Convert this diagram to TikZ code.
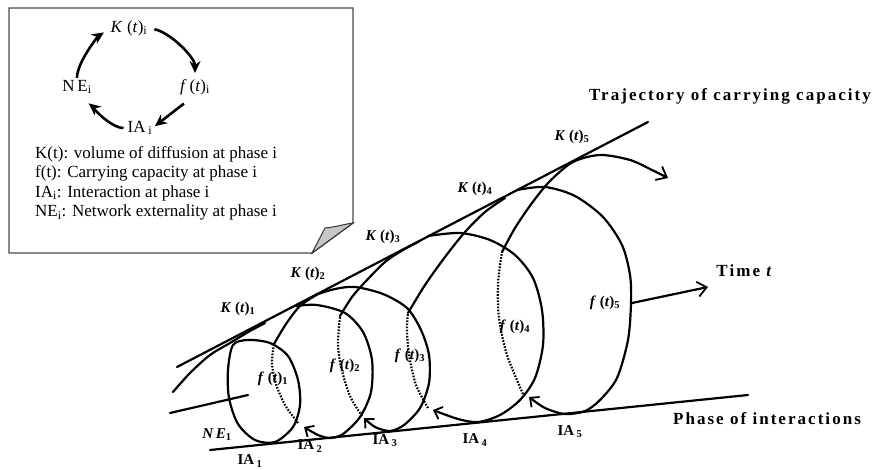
\documentclass[tikz,border=0pt]{standalone}
\usepackage{fontspec}
\setmainfont{Liberation Serif}
\newfontfamily\spacedfont[LetterSpace=12]{Liberation Serif}
\usetikzlibrary{arrows.meta}

% labels of the spiral
\newcommand{\Klab}[1]{\textbf{\textit{K}\ (\textit{t})\textsubscript{#1}}}
\newcommand{\flab}[1]{\textbf{\textit{f}\ (\textit{t})\textsubscript{#1}}}
\newcommand{\IAlab}[1]{\textbf{IA\,\textsubscript{#1}}}

\tikzset{
  spiral/.style={line width=2.2pt, line join=round, line cap=round},
  hidden/.style={line width=2.2pt, dash pattern=on 1.6pt off 1.5pt},
  loopend/.style={-{Straight Barb[length=7pt,width=13pt,line width=1.8pt]}},
  lab/.style={inner sep=0pt, font=\fontsize{15}{17}\selectfont},
  biglab/.style={inner sep=0pt, font=\fontsize{17}{19}\selectfont\spacedfont\bfseries},
  legbox/.style={draw=black!70, line width=1.4pt, fill=white},
  cyc/.style={line width=2.6pt, -{Stealth[length=12pt,width=11pt]}},
  legtxt/.style={inner sep=0pt, font=\fontsize{17}{19.5}\selectfont}
}

\begin{document}
\begin{tikzpicture}[x=1pt,y=-1pt]
  \useasboundingbox (0,0) rectangle (874,470);

  % Jelmagyarazat doboz
  \draw[legbox] (9,8) -- (353,8) -- (353,223) -- (312,253) -- (9,253) -- cycle;
  \filldraw[fill=gray!45, draw=black!80, line width=1pt]
    (312,253) -- (325,228) .. controls (336,227) and (345,224) .. (353,223) -- cycle;

  \node[legtxt] (Ki) at (129,28) {\textit{K}\ (\textit{t})\textsubscript{i}};
  \node[legtxt] (fi) at (195,87) {\textit{f}\,(\textit{t})\textsubscript{i}};
  \node[legtxt] (IAi) at (140,128) {IA\,\textsubscript{i}};
  \node[legtxt] (NEi) at (77,87) {N\,E\textsubscript{i}};

  \draw[cyc, shorten <=7pt, shorten >=6pt] (Ki.east) .. controls +(22,4) and +(0,-22) .. (fi.north);
  \draw[cyc, shorten <=14pt, shorten >=3pt] (fi.south) -- (IAi.east);
  \draw[cyc, shorten <=4pt, shorten >=15pt] (IAi.west) .. controls +(-18,0) and +(10,8) .. (NEi.south);
  \draw[cyc, shorten <=2pt, shorten >=8pt] (NEi.north) .. controls +(0,-18) and +(-12,8) .. (Ki.west);

  \node[legtxt, anchor=north west, align=left] (legend) at (35,146)
    {K(t): volume of diffusion at phase i\\
     f(t): Carrying capacity at phase i\\
     IA\textsubscript{i}: Interaction at phase i\\
     NE\textsubscript{i}: Network externality at phase i};

  % Egyenesek
  \coordinate (top1) at (177,367);
  \coordinate (top2) at (648,122);
  \coordinate (bot1) at (210,450);
  \coordinate (bot2) at (748,395);
  \coordinate (ax1) at (170,413);
  \coordinate (ax2) at (248,395);
  \coordinate (tstart) at (632,303);
  \coordinate (tend) at (708,287);
  \draw[spiral] (top1) -- (top2);
  \draw[spiral] (bot1) -- (bot2);
  \draw[spiral] (ax1) -- (ax2);
  \draw[spiral, -{Straight Barb[length=9pt,width=15pt,line width=1.8pt]}] (tstart) -- (tend);

  % Spiral
  \draw[spiral] plot[smooth] coordinates {(173,392) (190,373) (210,355) (230,343) (250,331) (265,323)};
  \draw[spiral] plot[smooth cycle] coordinates {(233,345) (248,340) (270,343) (288,356) (298,380)
    (300,405) (293,427) (275,442) (255,440) (238,424) (229,398) (228,370)};

  \draw[spiral, loopend] plot[smooth] coordinates {(296,306) (317,305) (345,313) (363,332) (372,360)
    (371,392) (360,417) (343,434) (330,438) (318,435) (304,427)};
  \draw[hidden] plot[smooth] coordinates {(298,423) (285,405) (276,384) (272,363) (274,344)};
  \draw[spiral] plot[smooth] coordinates {(274,344) (286,324) (300,306) (318,294)};

  \draw[spiral, loopend] plot[smooth] coordinates {(315,295) (335,289) (355,287) (383,294) (407,308)
    (421,330) (429,355) (429,383) (420,408) (404,425) (390,431) (375,427) (364,418)};
  \draw[hidden] plot[smooth] coordinates {(362,416) (350,396) (341,367) (338,343) (340,317)};
  \draw[spiral] plot[smooth] coordinates {(340,316) (352,297) (367,280) (385,262) (403,250) (420,241)};

  \draw[spiral, loopend] plot[smooth] coordinates {(428,236) (460,233) (490,240) (515,255) (533,278)
    (542,310) (543,345) (535,378) (520,400) (500,415) (478,422) (458,419) (433,410)};
  \draw[hidden] plot[smooth] coordinates {(428,408) (416,385) (409,355) (407,330) (408,313)};
  \draw[spiral] plot[smooth] coordinates {(408,313) (425,285) (445,257) (465,232) (485,212) (505,198)};

  \draw[spiral, loopend] plot[smooth] coordinates {(517,190) (545,187) (575,196) (603,217) (622,245)
    (630,275) (631,303) (628,340) (617,378) (600,400) (585,411) (565,414) (545,408) (529,397)};
  \draw[hidden] plot[smooth] coordinates {(523,394) (507,355) (499,318) (498,284) (502,252)};
  \draw[spiral, -{Straight Barb[length=9pt,width=15pt,line width=1.8pt]}] plot[smooth] coordinates
    {(502,252) (515,228) (532,203) (550,181) (573,162) (600,155) (630,160) (652,170) (668,178)};

  % Feliratok
  \node[lab] (k1) at (238,309) {\Klab{1}};
  \node[lab] (k2) at (308,274) {\Klab{2}};
  \node[lab] (k3) at (383,237) {\Klab{3}};
  \node[lab] (k4) at (475,189) {\Klab{4}};
  \node[lab] (k5) at (572,137) {\Klab{5}};
  \node[lab] (f1) at (273,379) {\flab{1}};
  \node[lab] (f2) at (345,366) {\flab{2}};
  \node[lab] (f3) at (410,356) {\flab{3}};
  \node[lab] (f4) at (515,327) {\flab{4}};
  \node[lab] (f5) at (605,303) {\flab{5}};
  \node[lab] (ne1) at (217,435) {\textbf{\textit{N\,E}}\textsubscript{\textbf{1}}};
  \node[lab] (ia1) at (250,461) {\IAlab{1}};
  \node[lab] (ia2) at (310,446) {\IAlab{2}};
  \node[lab] (ia3) at (385,441) {\IAlab{3}};
  \node[lab] (ia4) at (475,440) {\IAlab{4}};
  \node[lab] (ia5) at (570,432) {\IAlab{5}};

  \node[biglab] (trajlab) at (730,96) {Trajectory of carrying capacity};
  \node[biglab] (timelab) at (745,271) {Time \textit{t}};
  \node[biglab] (phaselab) at (767,419) {Phase of interactions};
\end{tikzpicture}
\end{document}
